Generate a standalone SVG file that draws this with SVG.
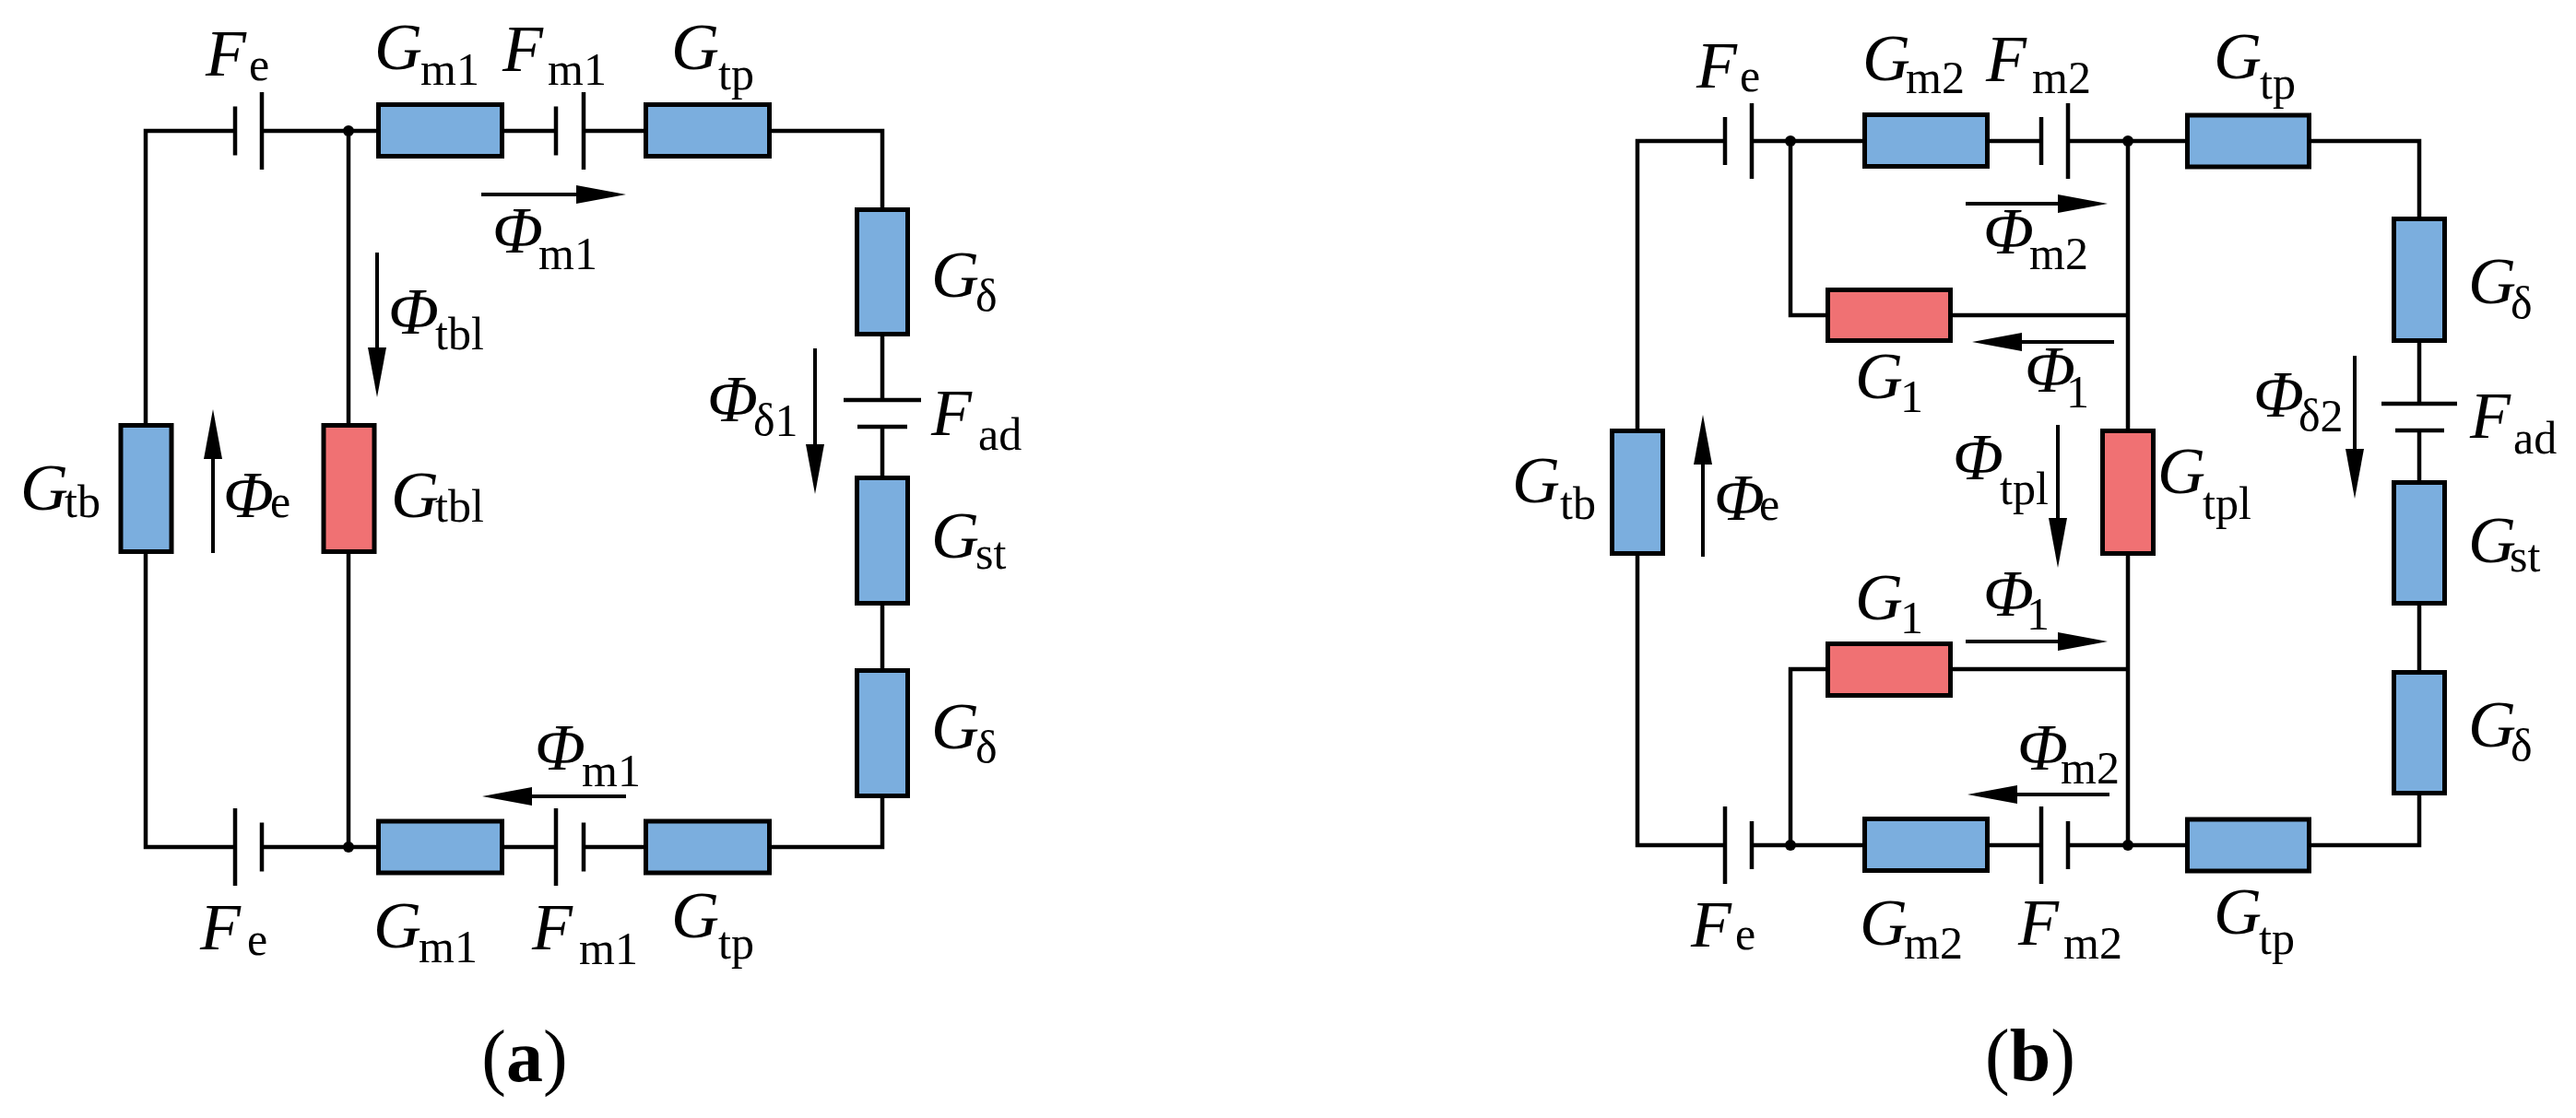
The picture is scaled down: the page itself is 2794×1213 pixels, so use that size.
<svg xmlns="http://www.w3.org/2000/svg" width="2794" height="1213" viewBox="0 0 2794 1213" font-family="'Liberation Serif', 'Times New Roman', serif">
<defs>
<style>
.w{fill:none;stroke:#000;stroke-width:4.5;stroke-linejoin:miter}
.p{fill:none;stroke:#000;stroke-width:4.5}
.rb{fill:#7BAEDE;stroke:#000;stroke-width:5}
.rr{fill:#F07173;stroke:#000;stroke-width:5}
.a{fill:none;stroke:#000;stroke-width:4;marker-end:url(#ah)}
.d{fill:#000}
.t{font-size:72px;font-style:italic;fill:#000}
.s{font-size:50px;font-style:normal}
.c{font-size:80px;font-style:normal;fill:#000}
</style>
<marker id="ah" markerUnits="userSpaceOnUse" markerWidth="56" markerHeight="22" viewBox="0 0 56 22" refX="4" refY="11" orient="auto">
<path d="M0,1 L54,11 L0,21 z" fill="#000"/>
</marker>
</defs>
<rect width="2794" height="1213" fill="#fff"/>

<!-- Panel (a) connectors -->
<g id="connectors-a">
<path class="w" d="M255,142 H158 V919 H255"/>
<path class="w" d="M284,142 H603"/>
<path class="w" d="M633,142 H957 V434"/>
<path class="w" d="M957,463 V919 H633"/>
<path class="w" d="M603,919 H284"/>
<path class="w" d="M378,142 V919"/>
<circle class="d" cx="378" cy="142" r="6"/>
<circle class="d" cx="378" cy="919" r="6"/>
<path class="a" d="M522,211 H629"/>
<path class="a" d="M409,274 V381"/>
<path class="a" d="M884,378 V486"/>
<path class="a" d="M231,600 V494"/>
<path class="a" d="M679,864 H573"/>
</g>

<g id="a-Fe-top"><path class="p" d="M255,115.5 V168.5 M284,100 V184"/>
<text class="t" x="223" y="82">F<tspan class="s" x="270" y="87">e</tspan></text></g>
<g id="a-Gm1-top"><rect class="rb" x="410.5" y="113.5" width="134" height="56"/>
<text class="t" x="406" y="75">G<tspan class="s" x="456" y="92">m1</tspan></text></g>
<g id="a-Fm1-top"><path class="p" d="M603,115.5 V168.5 M633,100 V184"/>
<text class="t" x="545" y="77">F<tspan class="s" x="594" y="92">m1</tspan></text></g>
<g id="a-Gtp-top"><rect class="rb" x="700.5" y="113.5" width="134" height="56"/>
<text class="t" x="728" y="75">G<tspan class="s" x="779" y="97">tp</tspan></text></g>
<g id="a-Gdelta-up"><rect class="rb" x="929.5" y="227.5" width="55" height="135"/>
<text class="t" x="1010" y="322">G<tspan class="s" x="1058" y="338">δ</tspan></text></g>
<g id="a-Fad"><path class="p" d="M915,434 H999 M930,463 H984"/>
<text class="t" x="1010" y="472">F<tspan class="s" x="1061" y="488">ad</tspan></text></g>
<g id="a-Gst"><rect class="rb" x="929.5" y="518.5" width="55" height="136"/>
<text class="t" x="1010" y="605">G<tspan class="s" x="1058" y="617">st</tspan></text></g>
<g id="a-Gdelta-low"><rect class="rb" x="929.5" y="727.5" width="55" height="136"/>
<text class="t" x="1010" y="812">G<tspan class="s" x="1058" y="828">δ</tspan></text></g>
<g id="a-Gtb"><rect class="rb" x="131" y="461.5" width="55" height="137"/>
<text class="t" x="22" y="553">G<tspan class="s" x="70" y="561">tb</tspan></text></g>
<g id="a-Gtbl"><rect class="rr" x="351" y="461.5" width="55" height="137"/>
<text class="t" x="424" y="561">G<tspan class="s" x="472" y="566">tbl</tspan></text></g>
<g id="a-Fe-bot"><path class="p" d="M255,877 V961 M284,892.5 V945.5"/>
<text class="t" x="217" y="1030">F<tspan class="s" x="268" y="1036">e</tspan></text></g>
<g id="a-Gm1-bot"><rect class="rb" x="410.5" y="891" width="134" height="56"/>
<text class="t" x="405" y="1028">G<tspan class="s" x="454" y="1044">m1</tspan></text></g>
<g id="a-Fm1-bot"><path class="p" d="M603,877 V961 M633,892.5 V945.5"/>
<text class="t" x="577" y="1030">F<tspan class="s" x="628" y="1046">m1</tspan></text></g>
<g id="a-Gtp-bot"><rect class="rb" x="700.5" y="891" width="134" height="56"/>
<text class="t" x="728" y="1017">G<tspan class="s" x="779" y="1040">tp</tspan></text></g>
<g id="a-flux-labels">
<text class="t" x="534" y="274">Φ<tspan class="s" x="584" y="292">m1</tspan></text>
<text class="t" x="421" y="362">Φ<tspan class="s" x="472" y="379">tbl</tspan></text>
<text class="t" x="767" y="457">Φ<tspan class="s" x="817" y="473">δ1</tspan></text>
<text class="t" x="242" y="561">Φ<tspan class="s" x="293" y="561">e</tspan></text>
<text class="t" x="580" y="835">Φ<tspan class="s" x="631" y="853">m1</tspan></text>
</g>
<text class="c" x="569" y="1173" text-anchor="middle">(<tspan font-weight="bold">a</tspan>)</text>

<!-- Panel (b) connectors -->
<g id="connectors-b">
<path class="w" d="M1871,153 H1776 V917 H1871"/>
<path class="w" d="M1900,153 H2214"/>
<path class="w" d="M2243,153 H2624 V438"/>
<path class="w" d="M2624,467 V917 H2243"/>
<path class="w" d="M2214,917 H1900"/>
<path class="w" d="M2308,153 V917"/>
<path class="w" d="M1942,153 V342 H2308"/>
<path class="w" d="M1942,917 V726 H2308"/>
<circle class="d" cx="1942" cy="153" r="6"/>
<circle class="d" cx="2308" cy="153" r="6"/>
<circle class="d" cx="1942" cy="917" r="6"/>
<circle class="d" cx="2308" cy="917" r="6"/>
<path class="a" d="M2132,221 H2236"/>
<path class="a" d="M2293,371 H2189"/>
<path class="a" d="M2232,461 V566"/>
<path class="a" d="M2554,386 V491"/>
<path class="a" d="M1847,604 V500"/>
<path class="a" d="M2132,696 H2236"/>
<path class="a" d="M2288,862 H2184"/>
</g>

<g id="b-Fe-top"><path class="p" d="M1871,127 V179 M1900,112 V194"/>
<text class="t" x="1840" y="95">F<tspan class="s" x="1887" y="99">e</tspan></text></g>
<g id="b-Gm2-top"><rect class="rb" x="2022.5" y="124.5" width="133" height="56"/>
<text class="t" x="2020" y="87">G<tspan class="s" x="2067" y="101">m2</tspan></text></g>
<g id="b-Fm2-top"><path class="p" d="M2214,127 V179 M2243,112 V194"/>
<text class="t" x="2154" y="88">F<tspan class="s" x="2204" y="101">m2</tspan></text></g>
<g id="b-Gtp-top"><rect class="rb" x="2372.5" y="125" width="132" height="56"/>
<text class="t" x="2401" y="85">G<tspan class="s" x="2451" y="107">tp</tspan></text></g>
<g id="b-G1-up"><rect class="rr" x="1982.5" y="314.5" width="133" height="55"/>
<text class="t" x="2012" y="432">G<tspan class="s" x="2061" y="447">1</tspan></text></g>
<g id="b-Gdelta-up"><rect class="rb" x="2596.5" y="237.5" width="55" height="132"/>
<text class="t" x="2677" y="329">G<tspan class="s" x="2723" y="346">δ</tspan></text></g>
<g id="b-Fad"><path class="p" d="M2583,438 H2665 M2598,467 H2651"/>
<text class="t" x="2679" y="475">F<tspan class="s" x="2726" y="492">ad</tspan></text></g>
<g id="b-Gst"><rect class="rb" x="2596.5" y="523.5" width="55" height="131"/>
<text class="t" x="2677" y="610">G<tspan class="s" x="2722" y="620">st</tspan></text></g>
<g id="b-Gdelta-low"><rect class="rb" x="2596.5" y="729.5" width="55" height="131"/>
<text class="t" x="2677" y="810">G<tspan class="s" x="2723" y="826">δ</tspan></text></g>
<g id="b-Gtb"><rect class="rb" x="1748.5" y="467.5" width="55" height="133"/>
<text class="t" x="1640" y="545">G<tspan class="s" x="1692" y="563">tb</tspan></text></g>
<g id="b-Gtpl"><rect class="rr" x="2280.5" y="467.5" width="55" height="133"/>
<text class="t" x="2340" y="535">G<tspan class="s" x="2389" y="563">tpl</tspan></text></g>
<g id="b-G1-low"><rect class="rr" x="1982.5" y="698.5" width="133" height="56"/>
<text class="t" x="2012" y="672">G<tspan class="s" x="2061" y="687">1</tspan></text></g>
<g id="b-Fe-bot"><path class="p" d="M1871,875 V959 M1900,891 V943"/>
<text class="t" x="1834" y="1027">F<tspan class="s" x="1882" y="1030">e</tspan></text></g>
<g id="b-Gm2-bot"><rect class="rb" x="2022.5" y="888.5" width="133" height="56"/>
<text class="t" x="2017" y="1025">G<tspan class="s" x="2065" y="1040">m2</tspan></text></g>
<g id="b-Fm2-bot"><path class="p" d="M2214,875 V959 M2243,891 V943"/>
<text class="t" x="2189" y="1025">F<tspan class="s" x="2238" y="1040">m2</tspan></text></g>
<g id="b-Gtp-bot"><rect class="rb" x="2372.5" y="889" width="132" height="56"/>
<text class="t" x="2401" y="1013">G<tspan class="s" x="2450" y="1035">tp</tspan></text></g>
<g id="b-flux-labels">
<text class="t" x="2151" y="275">Φ<tspan class="s" x="2201" y="292">m2</tspan></text>
<text class="t" x="2196" y="425">Φ<tspan class="s" x="2241" y="442">1</tspan></text>
<text class="t" x="2118" y="520">Φ<tspan class="s" x="2169" y="547">tpl</tspan></text>
<text class="t" x="2444" y="452">Φ<tspan class="s" x="2493" y="468">δ2</tspan></text>
<text class="t" x="1859" y="564">Φ<tspan class="s" x="1908" y="564">e</tspan></text>
<text class="t" x="2151" y="668">Φ<tspan class="s" x="2198" y="683">1</tspan></text>
<text class="t" x="2188" y="835">Φ<tspan class="s" x="2235" y="850">m2</tspan></text>
</g>
<text class="c" x="2202" y="1172" text-anchor="middle">(<tspan font-weight="bold">b</tspan>)</text>
</svg>
